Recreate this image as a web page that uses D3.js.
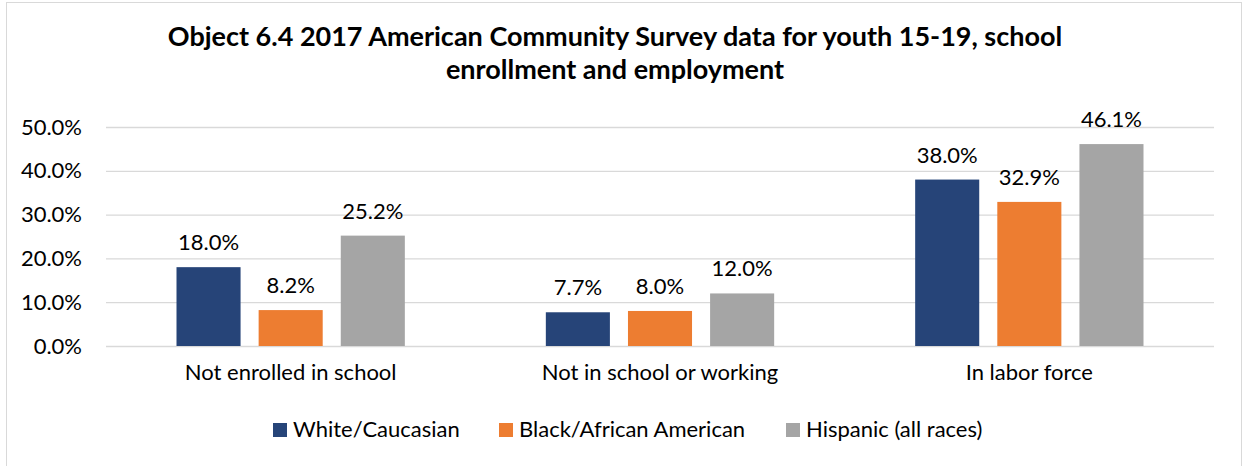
<!DOCTYPE html>
<html>
<head>
<meta charset="utf-8">
<script src="https://cdn.jsdelivr.net/npm/d3@7"></script>
<style>
  body { margin: 0; background: #fff; }
  svg text { font-family: Lato, "Open Sans", sans-serif; fill: #000; }
</style>
</head>
<body>
<svg width="1243" height="466"></svg>
<script>
// chart data
const categories = ['Not enrolled in school', 'Not in school or working', 'In labor force'];
const seriesNames = ['White/Caucasian', 'Black/African American', 'Hispanic (all races)'];
const whiteValues = [18.0, 7.7, 38.0];
const blackValues = [8.2, 8.0, 32.9];
const hispanicValues = [25.2, 12.0, 46.1];
const yTicks = [0, 10, 20, 30, 40, 50];
const titleLines = ['Object 6.4 2017 American Community Survey data for youth 15-19, school',
                    'enrollment and employment'];

const colors = ['#264478', '#ED7D31', '#A5A5A5'];
const allValues = [whiteValues, blackValues, hispanicValues];

const svg = d3.select('svg');
const margin = {top: 127, right: 29, bottom: 120, left: 106};
const width = 1243, height = 466;

// outer frame
svg.append('rect')
    .attr('x', 6.5).attr('y', 2.5)
    .attr('width', width - 8).attr('height', height + 10)
    .attr('fill', 'none').attr('stroke', '#D9D9D9');

// title
svg.append('g').selectAll('text')
    .data(titleLines)
    .enter().append('text')
    .attr('x', 615)
    .attr('y', (d, i) => 46 + i * 33)
    .attr('text-anchor', 'middle')
    .style('font-size', '27px')
    .style('font-weight', 'bold')
    .text(d => d);

const x0 = d3.scaleBand()
    .domain(categories)
    .range([margin.left, width - margin.right])
    .paddingInner(0).paddingOuter(0);

const x1 = d3.scaleBand()
    .domain(seriesNames)
    .range([70.5, x0.bandwidth() - 70.5])
    .paddingInner(0.22);

const y = d3.scaleLinear()
    .domain([0, 50])
    .range([346, margin.top]);

// gridlines + tick labels
const yAxis = svg.append('g')
    .attr('transform', `translate(${margin.left},0)`)
    .call(d3.axisLeft(y).tickValues(yTicks)
        .tickSize(-(width - margin.right - margin.left))
        .tickPadding(24)
        .tickFormat(d => d.toFixed(1) + '%'));
yAxis.select('.domain').remove();
yAxis.selectAll('.tick line').attr('stroke', '#D9D9D9').attr('stroke-width', 1.3);
yAxis.selectAll('.tick text').style('font-size', '22px').attr('fill', '#000');

// category labels
svg.append('g').selectAll('text')
    .data(categories)
    .enter().append('text')
    .attr('x', d => x0(d) + x0.bandwidth() / 2)
    .attr('y', 380)
    .attr('text-anchor', 'middle')
    .style('font-size', '22px')
    .text(d => d);

// bars
const groups = svg.append('g').selectAll('g')
    .data(categories)
    .enter().append('g')
    .attr('transform', d => `translate(${x0(d)},0)`);

groups.selectAll('rect')
    .data((d, i) => seriesNames.map((s, j) => ({s, v: allValues[j][i], j})))
    .enter().append('rect')
    .attr('x', d => x1(d.s))
    .attr('width', x1.bandwidth())
    .attr('y', d => y(d.v))
    .attr('height', d => y(0) - y(d.v))
    .attr('fill', d => colors[d.j]);

groups.selectAll('text')
    .data((d, i) => seriesNames.map((s, j) => ({s, v: allValues[j][i], j})))
    .enter().append('text')
    .attr('x', d => x1(d.s) + x1.bandwidth() / 2)
    .attr('y', d => y(d.v) - 17)
    .attr('text-anchor', 'middle')
    .style('font-size', '22px')
    .text(d => d.v.toFixed(1) + '%');

// legend
const legendX = [273, 499, 786];
const legend = svg.append('g').selectAll('g')
    .data(seriesNames)
    .enter().append('g')
    .attr('transform', (d, i) => `translate(${legendX[i]},423)`);
legend.append('rect')
    .attr('width', 14).attr('height', 14)
    .attr('fill', (d, i) => colors[i]);
legend.append('text')
    .attr('x', 20).attr('y', 14)
    .style('font-size', '22px')
    .text(d => d);
</script>
</body>
</html>
